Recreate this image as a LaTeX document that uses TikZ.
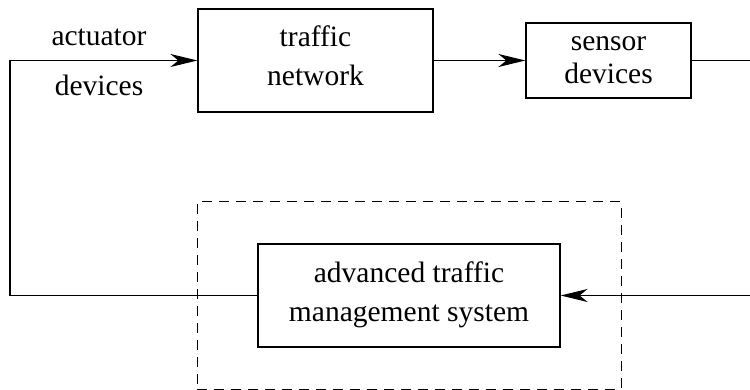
\documentclass[tikz,border=0pt]{standalone}
\usepackage{fontspec}
\setmainfont{Liberation Serif}
\newfontfamily\tnrfont{Liberation Serif}
\usetikzlibrary{arrows.meta}
\begin{document}
\begin{tikzpicture}[x=1pt,y=-1pt,
  box/.style={draw,line width=1.2pt,inner sep=0pt,align=center},
  conn/.style={line width=1.2pt},
  arr/.style={conn,-{Stealth[length=27pt,width=13pt,inset=8pt]}},
  lbl/.style={inner sep=0pt,anchor=base},
  every node/.style={font=\tnrfont\fontsize{29.5}{35.4}\selectfont}]
\useasboundingbox (0,0) rectangle (750,390);
% boxes
\node[box,minimum width=235pt,minimum height=103pt] (tn) at (315.5,60.5) {};
\node[lbl] (tn1) at (315.5,46.3) {traffic};
\node[lbl] (tn2) at (315.5,85.7) {network};
\node[box,minimum width=165pt,minimum height=75pt] (sd) at (608.5,60.5) {};
\node[lbl] (sd1) at (608.5,50.7) {sensor};
\node[lbl] (sd2) at (608.5,83.3) {devices};
\node[box,minimum width=302pt,minimum height=103pt] (atms) at (409,295.5) {};
\node[lbl] (at1) at (409,282.7) {advanced traffic};
\node[lbl] (at2) at (409,321.7) {management system};
\node[draw,line width=1pt,dash pattern=on 10pt off 7pt,minimum width=424pt,minimum height=187pt,inner sep=0pt] (dash) at (409,295.5) {};
% labels
\node[lbl] (act) at (99,46) {actuator};
\node[lbl] (dev) at (99,96) {devices};
% connectors
\coordinate (rtop) at (760,60.5);
\coordinate (rbot) at (760,295.5);
\coordinate (lcorner) at (10,295.5);
\draw[arr] (atms.west) -- (lcorner) |- (tn.west);
\draw[arr] (tn.east) -- (sd.west);
\draw[conn] (sd.east) -- (rtop);
\draw[arr] (rbot) -- (atms.east);
\end{tikzpicture}
\end{document}
